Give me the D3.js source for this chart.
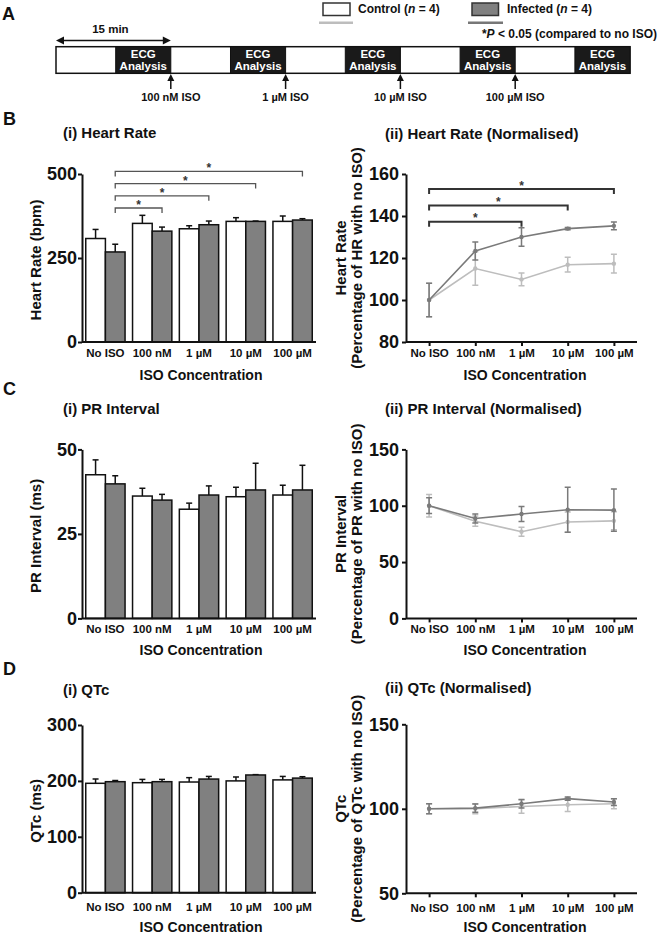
<!DOCTYPE html>
<html><head><meta charset="utf-8">
<script src="https://cdn.jsdelivr.net/npm/d3@7"></script>
<style>
body{margin:0;background:#fff;}
svg{display:block;font-family:"Liberation Sans",Arial,Helvetica,sans-serif;font-weight:bold;}
</style></head><body>
<svg id="c" width="660" height="934"></svg>
<script>
// ---------- DATA ----------
const categories = ["No ISO","100 nM","1 µM","10 µM","100 µM"];
const groups = ["Control","Infected"];

const hrControl = [308, 353, 337, 359, 359];
const hrControlErr = [27, 24, 9, 11, 16];
const hrInfected = [268, 330, 349, 359, 363];
const hrInfectedErr = [23, 12, 11, 1, 4];

const hrNormControl = [100, 115, 109.8, 116.8, 117.3];
const hrNormControlErr = [8, 8, 3, 3.5, 4.5];
const hrNormInfected = [100, 123.3, 130, 134, 135.3];
const hrNormInfectedErr = [8, 4.3, 4.4, 0.5, 1.9];

const prControl = [42.5, 36.2, 32.3, 36.0, 36.5];
const prControlErr = [4.4, 2.3, 1.8, 2.8, 2.9];
const prInfected = [39.8, 35.0, 36.5, 38.0, 38.0];
const prInfectedErr = [2.4, 1.7, 2.7, 7.9, 7.3];

const prNormControl = [100, 86.3, 76.9, 85.5, 86.6];
const prNormControlErr = [10, 4.5, 4, 9, 8];
const prNormInfected = [100, 88.7, 92.6, 96.4, 96.1];
const prNormInfectedErr = [7, 4, 6.7, 20, 18.7];

const qtcControl = [195.7, 196.8, 198, 200, 201.8];
const qtcControlErr = [7.7, 5.9, 7.8, 7, 6.2];
const qtcInfected = [198.6, 198.6, 203.3, 210.6, 205];
const qtcInfectedErr = [2.1, 4.1, 4.7, 0.6, 2.5];

const qtcNormControl = [100, 100, 101.4, 102.4, 103];
const qtcNormControlErr = [3, 3, 4, 4, 3];
const qtcNormInfected = [100, 100.4, 103, 106, 104];
const qtcNormInfectedErr = [3, 2.5, 2.5, 1, 2];

const hrTicks = [0, 250, 500];
const hrNormTicks = [80, 100, 120, 140, 160];
const prTicks = [0, 25, 50];
const prNormTicks = [0, 50, 100, 150];
const qtcTicks = [0, 100, 200, 300];
const qtcNormTicks = [50, 100, 150];

const hrSig = [[0,1],[0,2],[0,3],[0,4]];
const hrNormSig = [[0,2],[0,3],[0,4]];

const isoAdditions = ["100 nM ISO","1 µM ISO","10 µM ISO","100 µM ISO"];
const isoTimes = [15, 30, 45, 60];
const ecgWindows = [[7.8,15],[22.8,30],[37.8,45],[52.8,60],[67.8,75]];
const totalMinutes = [0, 75];

// ---------- DRAW ----------
const svg = d3.select("#c");
const FONT = '"Liberation Sans",Arial,Helvetica,sans-serif';

function txt(g, x, y, s, size, anchor){
  return g.append("text").attr("x",x).attr("y",y).attr("font-size",size)
    .attr("text-anchor",anchor||"start").attr("fill","#111").text(s);
}

// Panel A
(function(){
  const g = svg.append("g");
  txt(g, 2, 20, "A", 18);
  const tx = d3.scaleLinear().domain(totalMinutes).range([56,630]);
  const y0 = 46.7, y1 = 73.3;
  g.append("rect").attr("x",tx(0)).attr("y",y0).attr("width",tx(75)-tx(0)).attr("height",y1-y0)
    .attr("fill","#fff").attr("stroke","#111").attr("stroke-width",1.5);
  ecgWindows.forEach(w=>{
    g.append("rect").attr("x",tx(w[0])).attr("y",y0).attr("width",tx(w[1])-tx(w[0])).attr("height",y1-y0)
      .attr("fill","#1a1a1a").attr("stroke","#111").attr("stroke-width",1);
    const cx = (tx(w[0])+tx(w[1]))/2;
    txt(g, cx, 58, "ECG", 11.5, "middle").attr("fill","#fff");
    txt(g, cx, 69.5, "Analysis", 11.5, "middle").attr("fill","#fff");
  });
  // 15 min arrow
  const ay = 40.5, xa = tx(0), xb = tx(15);
  g.append("line").attr("x1",xa+4).attr("x2",xb-4).attr("y1",ay).attr("y2",ay).attr("stroke","#111").attr("stroke-width",1.5);
  g.append("path").attr("d",`M${xa},${ay}L${xa+8},${ay-4}L${xa+8},${ay+4}Z`).attr("fill","#111");
  g.append("path").attr("d",`M${xb},${ay}L${xb-8},${ay-4}L${xb-8},${ay+4}Z`).attr("fill","#111");
  txt(g, (xa+xb)/2 - 3, 33, "15 min", 11.5, "middle");
  // ISO arrows
  isoTimes.forEach((t,k)=>{
    const x = tx(t);
    g.append("line").attr("x1",x).attr("x2",x).attr("y1",89).attr("y2",79).attr("stroke","#111").attr("stroke-width",1.5);
    g.append("path").attr("d",`M${x},${74}L${x-3.5},${81}L${x+3.5},${81}Z`).attr("fill","#111");
    txt(g, x, 101, isoAdditions[k], 11, "middle");
  });
  // legend
  g.append("rect").attr("x",323).attr("y",3).attr("width",27).attr("height",12.5)
    .attr("fill","#fff").attr("stroke","#333").attr("stroke-width",1.5);
  g.append("line").attr("x1",319).attr("x2",353).attr("y1",22.7).attr("y2",22.7).attr("stroke","#bdbdbd").attr("stroke-width",2.5);
  const t1 = txt(g, 358, 13, "", 12);
  t1.append("tspan").text("Control (");
  t1.append("tspan").attr("font-style","italic").text("n");
  t1.append("tspan").text(" = 4)");
  g.append("rect").attr("x",472).attr("y",3).attr("width",26.5).attr("height",12.5)
    .attr("fill","#808080").attr("stroke","#333").attr("stroke-width",1.5);
  g.append("line").attr("x1",468).attr("x2",503).attr("y1",22.7).attr("y2",22.7).attr("stroke","#777").attr("stroke-width",2.5);
  const t2 = txt(g, 507, 13, "", 12);
  t2.append("tspan").text("Infected (");
  t2.append("tspan").attr("font-style","italic").text("n");
  t2.append("tspan").text(" = 4)");
  const t3 = txt(g, 657, 38, "", 12, "end");
  t3.append("tspan").text("*");
  t3.append("tspan").attr("font-style","italic").text("P");
  t3.append("tspan").text(" < 0.05 (compared to no ISO)");
})();

function styleAxis(ag, size){
  ag.select(".domain").attr("stroke","#111").attr("stroke-width",2);
  ag.selectAll(".tick line").attr("stroke","#111").attr("stroke-width",2);
  ag.selectAll(".tick text").attr("fill","#111").attr("font-size",size)
    .attr("font-family",FONT).attr("font-weight","bold");
}

function barChart(o){
  const g = svg.append("g");
  const X0 = 82, X1 = 316;
  const x = d3.scaleBand().domain(categories).range([X0,X1]).paddingInner(0.16).paddingOuter(0.08);
  const xs = d3.scaleBand().domain(groups).range([0,x.bandwidth()]);
  const y = d3.scaleLinear().domain(o.domain).range([o.yBot,o.yTop]);
  const rows = [];
  categories.forEach((c,k)=>{
    rows.push({cat:c,grp:"Control",v:o.c[k],e:o.cE[k]});
    rows.push({cat:c,grp:"Infected",v:o.i[k],e:o.iE[k]});
  });
  const cx = d=>x(d.cat)+xs(d.grp)+xs.bandwidth()/2;
  g.selectAll(".eb").data(rows).join("line").attr("x1",cx).attr("x2",cx)
    .attr("y1",d=>y(d.v)).attr("y2",d=>y(d.v+d.e)).attr("stroke","#111").attr("stroke-width",1.5);
  g.selectAll(".cap").data(rows).join("line").attr("x1",d=>cx(d)-3).attr("x2",d=>cx(d)+3)
    .attr("y1",d=>y(d.v+d.e)).attr("y2",d=>y(d.v+d.e)).attr("stroke","#111").attr("stroke-width",1.5);
  g.selectAll(".bar").data(rows).join("rect")
    .attr("x",d=>x(d.cat)+xs(d.grp)).attr("width",xs.bandwidth())
    .attr("y",d=>y(d.v)).attr("height",d=>y(o.domain[0])-y(d.v))
    .attr("fill",d=>d.grp==="Control"?"#fff":"#808080").attr("stroke","#111").attr("stroke-width",1.5);
  const ya = g.append("g").attr("transform",`translate(${X0},0)`)
    .call(d3.axisLeft(y).tickValues(o.ticks).tickSize(4).tickSizeOuter(0).tickPadding(1));
  styleAxis(ya, 18);
  const xa = g.append("g").attr("transform",`translate(0,${o.yBot})`)
    .call(d3.axisBottom(x).tickSize(0).tickSizeOuter(0).tickPadding(o.lblPad));
  styleAxis(xa, 11.5);
  xa.select(".domain").attr("d",`M${X0},0H${X1}`);
  txt(g, (X0+X1)/2+2, o.yBot+o.xTitleDy, "ISO Concentration", 14, "middle");
  txt(g, 0, 0, o.ylabel, 15, "middle").attr("transform",`translate(41,${(o.yTop+o.yBot)/2+2}) rotate(-90)`);
  txt(g, 63, o.titleY, o.title, 15);
  txt(g, 3, o.letterY, o.letter, 18);
  if(o.sig){
    const ix = k=>x(categories[k])+xs("Infected")+xs.bandwidth()/2;
    o.sig.forEach((p,k)=>{
      const ly = 208 - k*12.2;
      const a = ix(p[0]), b = ix(p[1]);
      g.append("path").attr("d",`M${a},${ly+5}V${ly}H${b}V${ly+5}`).attr("fill","none")
        .attr("stroke","#555").attr("stroke-width",1.3);
      txt(g, (a+b)/2, ly+1, "*", 12, "middle").attr("fill","#333");
    });
  }
}

function lineChart(o){
  const g = svg.append("g");
  const X0 = 406, X1 = 637;
  const x = d3.scalePoint().domain(categories).range([X0,X1]).padding(0.5);
  const y = d3.scaleLinear().domain(o.domain).range([o.yBot,o.yTop]);
  const series = [
    {name:"Control", color:"#bdbdbd", v:o.c, e:o.cE},
    {name:"Infected", color:"#7a7a7a", v:o.i, e:o.iE}
  ];
  const line = d3.line().x((d,k)=>x(categories[k])).y(d=>y(d));
  series.forEach(s=>{
    const sg = g.append("g");
    sg.append("path").attr("d",line(s.v)).attr("fill","none").attr("stroke",s.color).attr("stroke-width",1.6);
    const pts = s.v.map((v,k)=>({cat:categories[k],v,e:s.e[k]}));
    sg.selectAll(".e").data(pts).join("path")
      .attr("d",d=>{const px=x(d.cat), a=y(d.v+d.e), b=y(d.v-d.e);
        return `M${px},${a}V${b}M${px-3},${a}H${px+3}M${px-3},${b}H${px+3}`;})
      .attr("fill","none").attr("stroke",s.color).attr("stroke-width",1.5);
    sg.selectAll(".p").data(pts).join("circle").attr("cx",d=>x(d.cat)).attr("cy",d=>y(d.v))
      .attr("r",2.2).attr("fill",s.color);
  });
  const ya = g.append("g").attr("transform",`translate(${X0},0)`)
    .call(d3.axisLeft(y).tickValues(o.ticks).tickSize(4).tickSizeOuter(0).tickPadding(3));
  styleAxis(ya, 18);
  const xa = g.append("g").attr("transform",`translate(0,${o.yBot})`)
    .call(d3.axisBottom(x).tickSize(4).tickSizeOuter(0).tickPadding(o.lblPad-4));
  styleAxis(xa, 11.5);
  xa.select(".domain").attr("d",`M${X0},0H${X1}`);
  txt(g, 525, o.yBot+o.xTitleDy, "ISO Concentration", 14, "middle");
  const cy = (o.yTop+o.yBot)/2;
  txt(g, 0, 0, o.ylabel1, 15, "middle").attr("transform",`translate(346,${cy}) rotate(-90)`);
  txt(g, 0, 0, o.ylabel2, 15, "middle").attr("transform",`translate(362,${cy}) rotate(-90)`);
  txt(g, 385, o.titleY, o.title, 15);
  if(o.sig){
    o.sig.forEach((p,k)=>{
      const ly = 221.7 - k*16.3;
      const a = x(categories[p[0]]), b = x(categories[p[1]]);
      g.append("path").attr("d",`M${a},${ly+5}V${ly}H${b}V${ly+5}`).attr("fill","none")
        .attr("stroke","#333").attr("stroke-width",2);
      txt(g, (a+b)/2, ly+0.5, "*", 12, "middle").attr("fill","#333");
    });
  }
}

barChart({domain:[0,500], yTop:174, yBot:342, ticks:hrTicks, c:hrControl, cE:hrControlErr, i:hrInfected, iE:hrInfectedErr,
  ylabel:"Heart Rate (bpm)", title:"(i) Heart Rate", titleY:138, letter:"B", letterY:125, lblPad:7, xTitleDy:38, sig:hrSig});
lineChart({domain:[80,160], yTop:174, yBot:342, ticks:hrNormTicks, c:hrNormControl, cE:hrNormControlErr, i:hrNormInfected, iE:hrNormInfectedErr,
  ylabel1:"Heart Rate", ylabel2:"(Percentage of HR with no ISO)", title:"(ii) Heart Rate (Normalised)", titleY:139, lblPad:7, xTitleDy:38, sig:hrNormSig});

barChart({domain:[0,50], yTop:449.4, yBot:618.4, ticks:prTicks, c:prControl, cE:prControlErr, i:prInfected, iE:prInfectedErr,
  ylabel:"PR Interval (ms)", title:"(i) PR Interval", titleY:414, letter:"C", letterY:395, lblPad:6.5, xTitleDy:37});
lineChart({domain:[0,150], yTop:449.4, yBot:618.4, ticks:prNormTicks, c:prNormControl, cE:prNormControlErr, i:prNormInfected, iE:prNormInfectedErr,
  ylabel1:"PR Interval", ylabel2:"(Percentage of PR with no ISO)", title:"(ii) PR Interval (Normalised)", titleY:414, lblPad:6.5, xTitleDy:37});

barChart({domain:[0,300], yTop:725, yBot:892.7, ticks:qtcTicks, c:qtcControl, cE:qtcControlErr, i:qtcInfected, iE:qtcInfectedErr,
  ylabel:"QTc (ms)", title:"(i) QTc", titleY:695, letter:"D", letterY:675, lblPad:10.5, xTitleDy:39});
lineChart({domain:[50,150], yTop:724.3, yBot:893.3, ticks:qtcNormTicks, c:qtcNormControl, cE:qtcNormControlErr, i:qtcNormInfected, iE:qtcNormInfectedErr,
  ylabel1:"QTc", ylabel2:"(Percentage of QTc with no ISO)", title:"(ii) QTc (Normalised)", titleY:693, lblPad:10.5, xTitleDy:39});
</script>
</body></html>
